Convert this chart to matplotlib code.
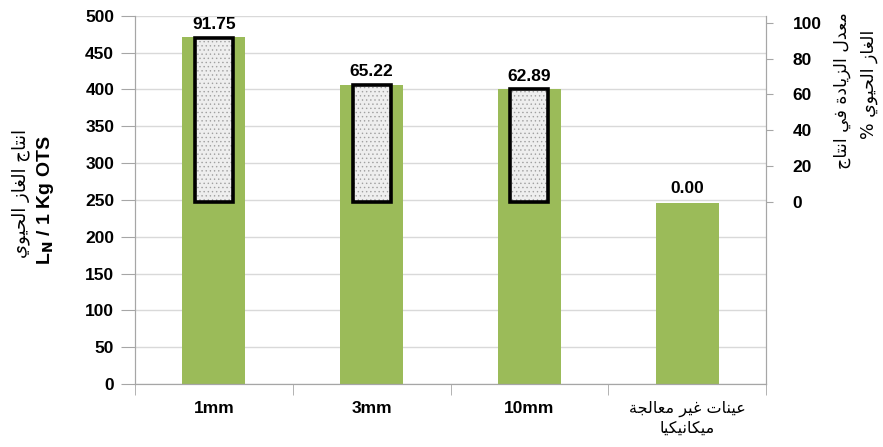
import matplotlib
matplotlib.use("Agg")
import matplotlib.pyplot as plt
import numpy as np

# data
categories = ["1mm", "3mm", "10mm", "عينات غير معالجة\nميكانيكيا"]
biogas = [470.7, 405.6, 399.9, 245.5]          # L_N / 1 Kg OTS (left axis)
increase = [91.75, 65.22, 62.89, 0.00]         # % increase (right axis)
left_ticks = list(range(0, 501, 50))
right_ticks = list(range(0, 101, 20))

left_label_ar = "انتاج الغاز الحيوي"
left_label_en = r"L$_{\mathbf{N}}$ / 1 Kg OTS"
right_label_1 = "معدل الزيادة في انتاج"
right_label_2 = "الغاز الحيوي %"

# minimal Arabic shaping: (isolated, final, initial, medial)
FORMS = {
    "ا": ("\uFE8D", "\uFE8E", None, None),
    "ت": ("\uFE95", "\uFE96", "\uFE97", "\uFE98"),
    "ة": ("\uFE93", "\uFE94", None, None),
    "ج": ("\uFE9D", "\uFE9E", "\uFE9F", "\uFEA0"),
    "ح": ("\uFEA1", "\uFEA2", "\uFEA3", "\uFEA4"),
    "د": ("\uFEA9", "\uFEAA", None, None),
    "ر": ("\uFEAD", "\uFEAE", None, None),
    "ز": ("\uFEAF", "\uFEB0", None, None),
    "ع": ("\uFEC9", "\uFECA", "\uFECB", "\uFECC"),
    "غ": ("\uFECD", "\uFECE", "\uFECF", "\uFED0"),
    "ف": ("\uFED1", "\uFED2", "\uFED3", "\uFED4"),
    "ك": ("\uFED9", "\uFEDA", "\uFEDB", "\uFEDC"),
    "ل": ("\uFEDD", "\uFEDE", "\uFEDF", "\uFEE0"),
    "م": ("\uFEE1", "\uFEE2", "\uFEE3", "\uFEE4"),
    "ن": ("\uFEE5", "\uFEE6", "\uFEE7", "\uFEE8"),
    "و": ("\uFEED", "\uFEEE", None, None),
    "ي": ("\uFEF1", "\uFEF2", "\uFEF3", "\uFEF4"),
}


def shape_line(text):
    out = []
    for i, ch in enumerate(text):
        if ch not in FORMS:
            out.append(ch)
            continue
        prev = text[i - 1] if i > 0 else ""
        nxt = text[i + 1] if i + 1 < len(text) else ""
        join_prev = prev in FORMS and FORMS[prev][2] is not None
        join_next = nxt in FORMS and FORMS[ch][2] is not None
        iso, fin, ini, med = FORMS[ch]
        if join_prev and join_next:
            out.append(med)
        elif join_prev:
            out.append(fin)
        elif join_next:
            out.append(ini)
        else:
            out.append(iso)
    return "".join(out)[::-1]


def shape(text):
    return "\n".join(shape_line(t) for t in text.split("\n"))


FAM = ["Liberation Sans", "DejaVu Sans"]
AR = ["DejaVu Sans"]
plt.rcParams["font.family"] = FAM
plt.rcParams["hatch.linewidth"] = 0.5

green = "#9bbb59"
grid_c = "#d9d9d9"
spine_c = "#a6a6a6"
TICK_FS = 12.5

fig = plt.figure(figsize=(8.83, 4.47), dpi=100)
ax = fig.add_axes([0.1529, 0.1409, 0.7146, 0.8240])
ax2 = ax.twinx()

x = np.arange(len(categories))
ax.bar(x, biogas, width=0.40, color=green, zorder=2)
ax.set_xlim(-0.5, len(categories) - 0.5)
ax.set_ylim(0, 500)
ax.set_yticks(left_ticks)
ax.yaxis.grid(True, color=grid_c, linewidth=1.0, zorder=0)
ax.set_axisbelow(True)

ax.set_xticks(x)
ax.set_xticklabels([shape(c) if i == 3 else c for i, c in enumerate(categories)])
ax.set_xticks(np.arange(len(categories) + 1) - 0.5, minor=True)
ax.tick_params(axis="x", which="major", length=0, pad=12)
ax.tick_params(axis="x", which="minor", length=8, color=spine_c, direction="out")
for i, lab in enumerate(ax.get_xticklabels()):
    if i == 3:
        lab.set_family(AR)
        lab.set_fontsize(11.5)
        lab.set_fontweight("normal")
        lab.set_linespacing(1.3)
    else:
        lab.set_fontsize(TICK_FS)
        lab.set_fontweight("bold")

ax.tick_params(axis="y", length=10, color=spine_c, pad=5)
for lab in ax.get_yticklabels():
    lab.set_fontsize(TICK_FS)
    lab.set_fontweight("bold")

for s in ["top"]:
    ax.spines[s].set_visible(False)
    ax2.spines[s].set_visible(False)
for s in ["left", "bottom", "right"]:
    ax.spines[s].set_color(spine_c)
    ax2.spines[s].set_color(spine_c)

# increase boxes on the right axis
xb = x[:3]
ax2.bar(xb, increase[:3], width=0.24, color="#eeeeee", edgecolor="#a0a0a0",
        hatch="....", linewidth=0, zorder=3)
ax2.bar(xb, increase[:3], width=0.24, fill=False, edgecolor="black",
        linewidth=2.6, zorder=4)
ax2.set_ylim(-102, 104)
ax2.set_yticks(right_ticks)
ax2.tick_params(axis="y", length=5, color=spine_c, pad=14)
for lab in ax2.get_yticklabels():
    lab.set_fontsize(TICK_FS)
    lab.set_fontweight("bold")

for xi, v in zip(x, increase):
    ax2.annotate(f"{v:.2f}", (xi, v), xytext=(0, 4), textcoords="offset points",
                 ha="center", va="bottom", fontsize=TICK_FS, fontweight="bold")

# axis titles
fig.text(21 / 883, 1 - 193 / 447, shape(left_label_ar), rotation=90,
         ha="center", va="center", fontsize=13, family=AR)
fig.text(46 / 883, 1 - 200 / 447, left_label_en, rotation=90,
         ha="center", va="center", fontsize=14, fontweight="bold")
fig.text(842 / 883, 1 - 12 / 447, shape(right_label_1), rotation=90,
         ha="center", va="top", fontsize=12.5, family=AR)
fig.text(869 / 883, 1 - 30 / 447, shape(right_label_2), rotation=90,
         ha="center", va="top", fontsize=12.5, family=AR)

fig.savefig("out.png", dpi=100)
